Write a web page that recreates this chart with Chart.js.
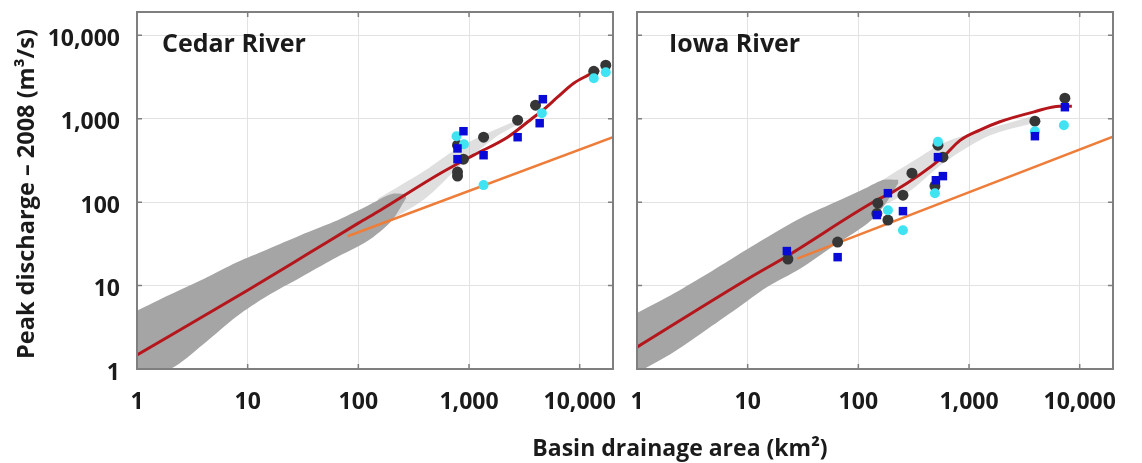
<!DOCTYPE html>
<html>
<head>
<meta charset="utf-8">
<script src="https://cdn.jsdelivr.net/npm/chart.js@4.4.1/dist/chart.umd.min.js"></script>
<style>
  body { margin: 0; background: #fff; width: 1142px; height: 463px; position: relative; overflow: hidden;
         font-family: "Open Sans", sans-serif; color: #1b1b1b; }
  .box { position: absolute; top: 0; height: 463px; }
  #leftBox { left: 0; width: 625px; }
  #rightBox { left: 625px; width: 517px; }
  .txt { position: absolute; white-space: nowrap; font-weight: 700; }
  .panelTitle { font-size: 25px; line-height: 25px; top: 30px; }
  #yTitle { font-size: 23.5px; width: 380px; height: 30px; line-height: 30px; text-align: center;
            left: -165px; top: 179px; transform: rotate(-90deg); }
  #xTitle { font-size: 23px; width: 400px; height: 30px; line-height: 30px; text-align: center;
            left: 480px; top: 432px; }
</style>
</head>
<body>
<div class="box" id="leftBox"><canvas id="cedarChart" width="625" height="463"></canvas></div>
<div class="box" id="rightBox"><canvas id="iowaChart" width="517" height="463"></canvas></div>
<div class="txt panelTitle" style="left:162px">Cedar River</div>
<div class="txt panelTitle" style="left:669px">Iowa River</div>
<div class="txt" id="yTitle">Peak discharge – 2008 (m³/s)</div>
<div class="txt" id="xTitle">Basin drainage area (km²)</div>

<script>
const decadeTicks = [1, 10, 100, 1000, 10000];

// ---- Cedar River panel ----
const cedarCloudX = [1, 2, 4, 8, 15, 30, 60, 120, 200, 270];
const cedarCloudTop = [5.0, 7.8, 12, 19, 27, 40, 58, 90, 125, 125];
const cedarCloudBottom = [0.8, 1.0, 2.0, 4.3, 7.5, 12.5, 21, 34, 60, 112];
const cedarTailX = [150, 400, 800, 1800, 3000];
const cedarTailTop = [110, 240, 450, 760, 1000];
const cedarTailBottom = [50, 110, 260, 620, 900];
const cedarRedX = [1, 10, 35, 100, 158, 552, 1100, 2230, 3840, 4600, 6300, 8830, 11800, 15000];
const cedarRedY = [1.47, 8.8, 24, 56, 80, 222, 366, 600, 1042, 1250, 1810, 2660, 3300, 3850];
const cedarOrangeX = [80, 20000];
const cedarOrangeY = [39, 600];
const cedarBlueX = [891, 787, 787, 1354, 2750, 4650, 4350];
const cedarBlueY = [708, 440, 327, 365, 600, 1713, 883];
const cedarCyanX = [771, 900, 1354, 4550, 13400, 17200];
const cedarCyanY = [617, 495, 160, 1165, 3050, 3600];
const cedarDarkX = [787, 891, 787, 787, 1354, 2750, 3990, 13400, 17200];
const cedarDarkY = [482, 327, 229, 205, 600, 959, 1452, 3700, 4370];

// ---- Iowa River panel ----
const iowaCloudX = [1, 2, 4, 8, 15, 30, 60, 120, 170, 230];
const iowaCloudTop = [4.7, 7.6, 13, 23, 38, 64, 98, 150, 185, 185];
const iowaCloudBottom = [0.9, 1.5, 2.8, 5.3, 9.6, 16, 30, 55, 90, 170];
const iowaTailX = [140, 300, 600, 1500, 4000];
const iowaTailTop = [160, 300, 520, 760, 1100];
const iowaTailBottom = [80, 140, 300, 620, 900];
const iowaRedX = [1, 10, 22.6, 147, 205, 580, 830, 1250, 1900, 3800, 6600, 8500];
const iowaRedY = [1.83, 12, 22.5, 106, 132, 346, 550, 730, 920, 1200, 1410, 1410];
const iowaOrangeX = [28, 20000];
const iowaOrangeY = [21, 610];
const iowaBlueX = [22.6, 65, 185, 147, 253, 502, 581, 524, 3940, 7350];
const iowaBlueY = [25.9, 21.9, 128, 70, 78, 183, 205, 346, 617, 1373];
const iowaCyanX = [524, 185, 253, 492, 3940, 7200];
const iowaCyanY = [530, 80, 46, 128, 708, 836];
const iowaDarkX = [23.1, 65, 150, 147, 185, 253, 305, 492, 524, 581, 3940, 7350];
const iowaDarkY = [20.8, 33.2, 97, 73, 61, 121, 222, 156, 482, 346, 933, 1760];

function pts(xs, ys) {
  return xs.map((x, i) => ({ x: x, y: ys[i] }));
}

const framePlugin = {
  id: 'frame',
  afterDatasetsDraw(chart) {
    const { ctx, chartArea: a, scales } = chart;
    ctx.save();
    ctx.strokeStyle = '#7f7f7f';
    ctx.lineWidth = 1.5;
    ctx.beginPath();
    decadeTicks.forEach(v => {
      const px = scales.x.getPixelForValue(v);
      if (px > a.left + 2 && px < a.right - 2) {
        ctx.moveTo(px, a.bottom); ctx.lineTo(px, a.bottom - 5);
        ctx.moveTo(px, a.top); ctx.lineTo(px, a.top + 5);
      }
      const py = scales.y.getPixelForValue(v);
      if (py > a.top + 2 && py < a.bottom - 2) {
        ctx.moveTo(a.left, py); ctx.lineTo(a.left + 5, py);
        ctx.moveTo(a.right, py); ctx.lineTo(a.right - 5, py);
      }
    });
    ctx.stroke();
    ctx.lineWidth = 2;
    ctx.strokeRect(a.left, a.top, a.right - a.left, a.bottom - a.top);
    ctx.restore();
  }
};

function makePanel(canvasId, d, showYLabels, padRight, yWidth) {
  const ctx = document.getElementById(canvasId).getContext("2d");
  return new Chart(ctx, {
    type: "line",
    data: {
      datasets: [
        { data: pts(d.cloudX, d.cloudTop), borderWidth: 0, pointRadius: 0, fill: false, tension: 0.3, order: 6 },
        { data: pts(d.cloudX, d.cloudBottom), borderWidth: 0, pointRadius: 0, fill: '-1',
          backgroundColor: '#a5a5a5', tension: 0.3, order: 6 },
        { data: pts(d.tailX, d.tailTop), borderWidth: 0, pointRadius: 0, fill: false, tension: 0.3, order: 7 },
        { data: pts(d.tailX, d.tailBottom), borderWidth: 0, pointRadius: 0, fill: '-1',
          backgroundColor: 'rgba(175,175,175,0.4)', tension: 0.3, order: 7 },
        { data: pts(d.orangeX, d.orangeY), borderColor: '#ee7d3a', borderWidth: 2.5, pointRadius: 0, order: 4 },
        { data: pts(d.redX, d.redY), borderColor: '#b5161c', borderWidth: 3, pointRadius: 0,
          cubicInterpolationMode: 'monotone', order: 3 },
        { data: pts(d.darkX, d.darkY), showLine: false, pointStyle: 'circle', pointRadius: 5.5,
          backgroundColor: '#363636', borderWidth: 0, order: 2 },
        { data: pts(d.cyanX, d.cyanY), showLine: false, pointStyle: 'circle', pointRadius: 5,
          backgroundColor: '#3fe3f2', borderWidth: 0, order: 1 },
        { data: pts(d.blueX, d.blueY), showLine: false, pointStyle: 'rect', pointRadius: 6,
          backgroundColor: '#0a0ad8', borderWidth: 0, order: 0 }
      ]
    },
    options: {
      responsive: false,
      animation: false,
      events: [],
      layout: { padding: { top: 12, right: padRight, left: 0, bottom: 0 } },
      plugins: { legend: { display: false }, tooltip: { enabled: false } },
      scales: {
        x: {
          type: 'logarithmic',
          min: 1,
          max: 20000,
          afterBuildTicks: s => { s.ticks = decadeTicks.map(v => ({ value: v })); },
          afterFit: s => { s.height = 94; },
          grid: { color: '#e2e2e2', drawTicks: true, tickLength: 22, tickColor: 'rgba(0,0,0,0)' },
          border: { display: false },
          ticks: {
            padding: 0, maxRotation: 0, autoSkip: false, color: '#1b1b1b',
            font: { family: 'Open Sans', weight: 'bold', size: 23, lineHeight: 1 },
            callback: v => Number(v).toLocaleString('en-US')
          }
        },
        y: {
          type: 'logarithmic',
          min: 1,
          max: 19000,
          afterBuildTicks: s => { s.ticks = decadeTicks.map(v => ({ value: v })); },
          afterFit: s => { s.width = yWidth; },
          grid: { color: '#e2e2e2', drawTicks: true, tickLength: 17, tickColor: 'rgba(0,0,0,0)' },
          border: { display: false },
          ticks: {
            display: showYLabels, padding: 0, labelOffset: 4, color: '#1b1b1b',
            font: { family: 'Open Sans', weight: 'bold', size: 23, lineHeight: 1 },
            callback: v => Number(v).toLocaleString('en-US')
          }
        }
      }
    },
    plugins: [framePlugin]
  });
}

makePanel("cedarChart", {
  cloudX: cedarCloudX, cloudTop: cedarCloudTop, cloudBottom: cedarCloudBottom,
  tailX: cedarTailX, tailTop: cedarTailTop, tailBottom: cedarTailBottom,
  redX: cedarRedX, redY: cedarRedY, orangeX: cedarOrangeX, orangeY: cedarOrangeY,
  blueX: cedarBlueX, blueY: cedarBlueY, cyanX: cedarCyanX, cyanY: cedarCyanY,
  darkX: cedarDarkX, darkY: cedarDarkY
}, true, 12, 137);

makePanel("iowaChart", {
  cloudX: iowaCloudX, cloudTop: iowaCloudTop, cloudBottom: iowaCloudBottom,
  tailX: iowaTailX, tailTop: iowaTailTop, tailBottom: iowaTailBottom,
  redX: iowaRedX, redY: iowaRedY, orangeX: iowaOrangeX, orangeY: iowaOrangeY,
  blueX: iowaBlueX, blueY: iowaBlueY, cyanX: iowaCyanX, cyanY: iowaCyanY,
  darkX: iowaDarkX, darkY: iowaDarkY
}, false, 29, 12);
</script>
</body>
</html>
